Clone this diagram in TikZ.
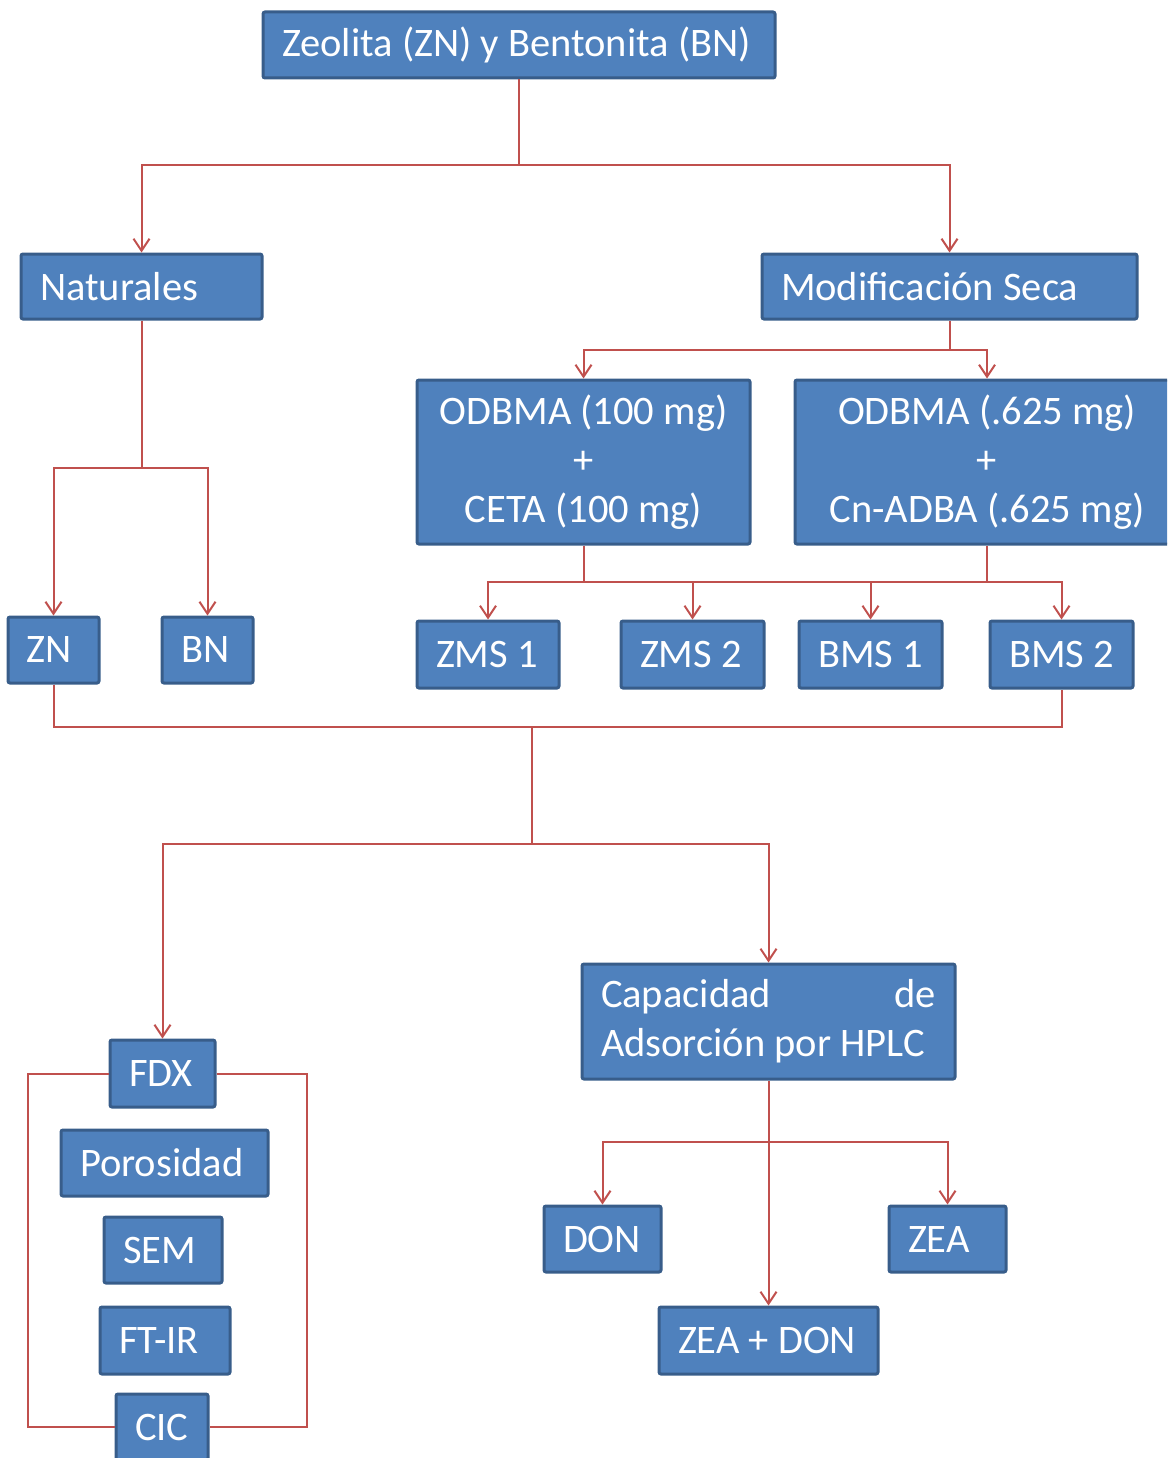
\documentclass[tikz,border=0pt]{standalone}
\usepackage{fontspec}
\setmainfont{Carlito}
\usetikzlibrary{arrows.meta}
\definecolor{boxfill}{HTML}{4F81BD}
\definecolor{boxline}{HTML}{385D8A}
\definecolor{wire}{HTML}{C0504D}
% left-aligned text of a fixed width inside a box
\newcommand\lt[2]{\makebox[#1pt][l]{#2}}
\begin{document}
\begin{tikzpicture}[x=1pt,y=-1pt,
  box/.style={draw=boxline,fill=boxfill,line width=3pt,rounded corners=2pt,
    text=white,inner xsep=19pt,inner ysep=0pt,
    font=\fontsize{40.5}{49}\selectfont},
  conn/.style={draw=wire,line width=2pt},
  arr/.style={conn,-{Straight Barb[length=12pt,width=16pt,line width=2pt]}}]
\useasboundingbox (0,0) rectangle (1167,1458);
\clip (0,0) rectangle (1167,1458);

% boxes
\node[box,minimum width=512,minimum height=66] (top) at (519,45) {\lt{474}{Zeolita (ZN) y Bentonita (BN)}};
\node[box,minimum width=241,minimum height=65] (nat) at (141.5,286.5) {\lt{203}{Naturales}};
\node[box,minimum width=375,minimum height=65] (mod) at (949.5,286.5) {\lt{337}{Modificación Seca}};
\node[box,minimum width=333,minimum height=164,align=center] (oa) at (583.5,462) {ODBMA (100 mg)\\+\\CETA (100 mg)};
\node[box,minimum width=384,minimum height=164,align=center] (ob) at (987,462) {ODBMA (.625 mg)\\+\\Cn-ADBA (.625 mg)};
\node[box,minimum width=91,minimum height=66] (zn) at (53.5,650) {\lt{53}{ZN}};
\node[box,minimum width=91,minimum height=66] (bn) at (207.5,650) {\lt{53}{BN}};
\node[box,minimum width=142,minimum height=67] (zms1) at (488,654.5) {\lt{104}{ZMS 1}};
\node[box,minimum width=143,minimum height=67] (zms2) at (692.5,654.5) {\lt{105}{ZMS 2}};
\node[box,minimum width=143,minimum height=67] (bms1) at (870.5,654.5) {\lt{105}{BMS 1}};
\node[box,minimum width=143,minimum height=67] (bms2) at (1061.5,654.5) {\lt{105}{BMS 2}};
\node[box,minimum width=373,minimum height=115] (cap) at (768.5,1021.5) {\parbox{335pt}{Capacidad\hfill de\\Adsorción por HPLC}};
\node[box,minimum width=105,minimum height=67] (fdx) at (162.5,1073.5) {\lt{67}{FDX}};
\node[box,minimum width=207,minimum height=66] (por) at (164.5,1163) {\lt{169}{Porosidad}};
\node[box,minimum width=118,minimum height=66] (sem) at (163,1250) {\lt{80}{SEM}};
\node[box,minimum width=130,minimum height=67] (ftir) at (165,1340.5) {\lt{92}{FT-IR}};
\node[box,minimum width=92,minimum height=66] (cic) at (162,1427) {\lt{54}{CIC}};
\node[box,minimum width=117,minimum height=66] (don) at (602.5,1239) {\lt{79}{DON}};
\node[box,minimum width=117,minimum height=66] (zea) at (947.5,1239) {\lt{79}{ZEA}};
\node[box,minimum width=219,minimum height=67] (zd) at (768.5,1340.5) {\lt{181}{ZEA + DON}};

% junction points
\coordinate (j1) at (519,165);
\coordinate (j2) at (141.5,468);
\coordinate (j3) at (949.5,350);
\coordinate (j4) at (583.5,582);
\coordinate (j5) at (532,727);
\coordinate (j6) at (532,844);
\coordinate (j7) at (768.5,1142);

% top split
\draw[conn] (top.south) -- (j1);
\draw[arr] (j1) -| (nat.north);
\draw[arr] (j1) -| (mod.north);

% natural samples
\draw[conn] (nat.south) -- (j2);
\draw[arr] (j2) -| (zn.north);
\draw[arr] (j2) -| (bn.north);

% dry modification
\draw[conn] (mod.south) -- (j3);
\draw[arr] (j3) -| (oa.north);
\draw[arr] (j3) -| (ob.north);
\draw[conn] (oa.south) -- (j4);
\draw[conn] (ob.south) -- (ob.south |- j4);
\draw[arr] (j4) -| (zms1.north);
\draw[arr] (j4) -| (zms2.north);
\draw[arr] (j4) -| (bms1.north);
\draw[arr] (j4) -| (bms2.north);

% gather all samples
\draw[conn] (zn.south) |- (j5) -| (bms2.south);
\draw[conn] (j5) -- (j6);
\draw[arr] (j6) -| (fdx.north);
\draw[arr] (j6) -| (cap.north);

% characterisation bracket
\draw[conn] (fdx.west) -- ++(-81,0) |- (cic.west);
\draw[conn] (fdx.east) -- ++(90,0) |- (cic.east);

% adsorption tests
\draw[arr] (cap.south) -- (zd.north);
\draw[arr] (j7) -| (don.north);
\draw[arr] (j7) -| (zea.north);
\end{tikzpicture}
\end{document}
